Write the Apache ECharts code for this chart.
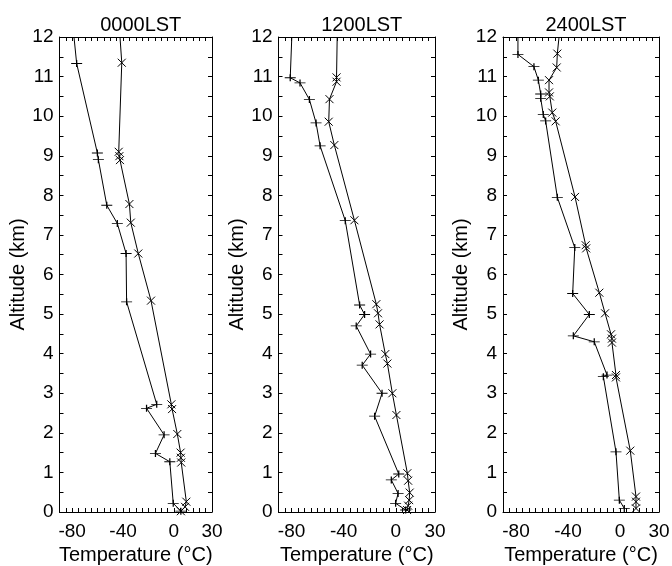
<!DOCTYPE html>
<html>
<head>
<meta charset="utf-8">
<script src="https://cdn.jsdelivr.net/npm/echarts@6/dist/echarts.min.js"></script>
<style>
html,body{margin:0;padding:0;background:#fff;}
#chart{width:672px;height:566px;}
</style>
</head>
<body>
<div id="chart"></div>
<script>
// Panel titles
const panelTitles = ['0000LST', '1200LST', '2400LST'];
const xTickLabels = [-80, -40, 0, 30];

// 0000LST
const dew0T = [-78.6, -76.5, -60.2, -59.4, -52.8, -44.5, -37.6, -37.2, -13.5, -21.5, -7.7, -14.5, -3.2, -0.5, 5.5];
const dew0Z = [12, 11.33, 9.07, 8.9, 7.75, 7.29, 6.53, 5.31, 2.72, 2.62, 1.95, 1.48, 1.27, 0.22, 0.02];
const tmp0T = [-42.4, -41, -43.4, -42.9, -42.4, -35, -33.9, -28, -18, -2, -1.4, 2.7, 5.3, 5.5, 5.8, 9.8, 8.8, 5.5];
const tmp0Z = [12, 11.35, 9.1, 8.99, 8.89, 7.78, 7.31, 6.53, 5.34, 2.72, 2.6, 1.97, 1.5, 1.37, 1.25, 0.26, 0.13, 0.02];

// 1200LST
const dew1T = [-79.8, -81, -73.5, -66.3, -61.2, -58.1, -38.8, -27.8, -24, -30.4, -19.4, -25.8, -10.6, -16.3, 2.2, -3.5, 1.7, -0.2, 7.5];
const dew1Z = [12, 10.97, 10.84, 10.42, 9.83, 9.25, 7.36, 5.23, 4.99, 4.7, 3.99, 3.71, 3.0, 2.42, 0.96, 0.81, 0.47, 0.22, 0.05];
const tmp1T = [-45, -45.5, -45.5, -50.9, -51.5, -47.2, -31.8, -15, -13.7, -12.5, -8.1, -6.5, -2.7, 0.4, 8.8, 9.4, 10.6, 10.2, 9.4, 8.6];
const tmp1Z = [12, 10.98, 10.87, 10.43, 9.86, 9.27, 7.37, 5.25, 5.02, 4.74, 3.99, 3.75, 3.0, 2.45, 0.98, 0.79, 0.49, 0.3, 0.16, 0.05];

// 2400LST
const dew2T = [-78.5, -78.5, -66.2, -62.8, -61, -61, -59, -57.2, -48.2, -34.8, -36.4, -23.6, -35.9, -19.8, -10, -12.8, -3.1, -0.5, 3.3];
const dew2Z = [12, 11.56, 11.25, 10.91, 10.56, 10.45, 10.04, 9.88, 7.95, 6.68, 5.52, 4.99, 4.45, 4.3, 3.46, 3.42, 1.52, 0.3, 0.09];
const tmp2T = [-46.9, -48.2, -48.7, -54.6, -54.6, -54, -52.1, -49.5, -34.6, -26.4, -26, -15.9, -11.5, -6.9, -6.2, -6.2, -3.1, -3.1, 7.9, 12.3, 12.3, 12.3];
const tmp2Z = [12, 11.58, 11.23, 10.91, 10.6, 10.5, 10.09, 9.87, 7.96, 6.74, 6.66, 5.54, 5.02, 4.49, 4.38, 4.28, 3.46, 3.4, 1.55, 0.39, 0.26, 0.09];

const dewT = [dew0T, dew1T, dew2T], dewZ = [dew0Z, dew1Z, dew2Z];
const tmpT = [tmp0T, tmp1T, tmp2T], tmpZ = [tmp0Z, tmp1Z, tmp2Z];

const FONT = '"Liberation Sans", Arial, Helvetica, sans-serif';
const PLUS = 'path://M0,5L10,5M5,0L5,10';
const CROSS = 'path://M0,0L10,10M10,0L0,10';

const grids = [
  {left: 59.5, top: 37, width: 152.5, height: 475, outerBoundsMode: 'none', containLabel: false},
  {left: 278.5, top: 37, width: 156.5, height: 475, outerBoundsMode: 'none', containLabel: false},
  {left: 503, top: 37, width: 156, height: 475, outerBoundsMode: 'none', containLabel: false}
];
const yNameGaps = [31, 27, 26];

function pairs(T, Z) {
  return T.map((t, i) => (Z[i] >= 12 ? {value: [t, Z[i]], symbol: 'none'} : [t, Z[i]]));
}

const axisLine = {show: true, onZero: false, lineStyle: {color: '#000', width: 1}};
const tick = {show: true, inside: true, length: 4, lineStyle: {color: '#000', width: 1}};

const xAxes = [], yAxes = [], series = [], titles = [];
grids.forEach((g, p) => {
  titles.push({
    text: panelTitles[p], left: g.left + g.width / 2, top: 10, textAlign: 'center',
    textStyle: {fontFamily: FONT, fontSize: 20, fontWeight: 'normal', color: '#000'}
  });
  xAxes.push({
    gridIndex: p, type: 'value', min: -90, max: 30, interval: 5, position: 'bottom',
    axisLine, axisTick: tick, splitLine: {show: false},
    axisLabel: {
      show: true, margin: 10, color: '#000', fontFamily: FONT, fontSize: 19,
      showMinLabel: false, showMaxLabel: true,
      formatter: v => (xTickLabels.indexOf(v) >= 0 ? String(v) : '')
    },
    name: 'Temperature (°C)', nameLocation: 'middle', nameGap: 32,
    nameTextStyle: {fontFamily: FONT, fontSize: 20, color: '#000'}
  });
  xAxes.push({
    gridIndex: p, type: 'value', min: -90, max: 30, interval: 5, position: 'top',
    axisLine, axisTick: tick, axisLabel: {show: false}, splitLine: {show: false}
  });
  yAxes.push({
    gridIndex: p, type: 'value', min: 0, max: 12, interval: 0.5, position: 'left',
    axisLine, axisTick: tick, splitLine: {show: false},
    axisLabel: {
      show: true, margin: 6, color: '#000', fontFamily: FONT, fontSize: 19,
      formatter: v => (Math.abs(v - Math.round(v)) < 1e-9 ? String(Math.round(v)) : '')
    },
    name: 'Altitude (km)', nameLocation: 'middle', nameGap: yNameGaps[p], nameRotate: 90,
    nameTextStyle: {fontFamily: FONT, fontSize: 20, color: '#000'}
  });
  yAxes.push({
    gridIndex: p, type: 'value', min: 0, max: 12, interval: 0.5, position: 'right',
    axisLine, axisTick: tick, axisLabel: {show: false}, splitLine: {show: false}
  });
  const common = {
    type: 'line', xAxisIndex: 2 * p, yAxisIndex: 2 * p, silent: true, clip: false,
    lineStyle: {color: '#000', width: 1},
    itemStyle: {color: 'rgba(0,0,0,0)', borderColor: '#000', borderWidth: 1},
    showSymbol: true, showAllSymbol: true
  };
  series.push(Object.assign({}, common, {
    name: 'dew' + p, symbol: PLUS, symbolSize: [11, 7], data: pairs(dewT[p], dewZ[p])
  }));
  series.push(Object.assign({}, common, {
    name: 'tmp' + p, symbol: CROSS, symbolSize: [8, 8], data: pairs(tmpT[p], tmpZ[p])
  }));
});

const chart = echarts.init(document.getElementById('chart'), null, {renderer: 'canvas'});
chart.setOption({
  animation: false,
  backgroundColor: '#fff',
  title: titles,
  grid: grids,
  xAxis: xAxes,
  yAxis: yAxes,
  series
});
</script>
</body>
</html>
